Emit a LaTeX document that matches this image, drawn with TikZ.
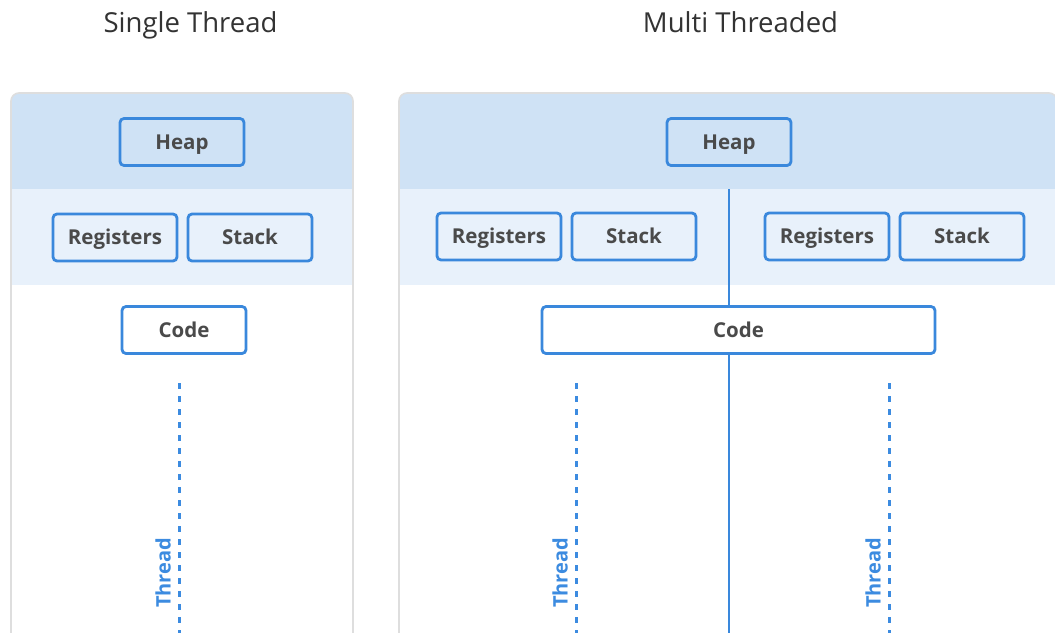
\documentclass[tikz,border=0pt]{standalone}
\usepackage{fontspec}
\setmainfont{Open Sans}
\definecolor{boxblue}{HTML}{3A88DC}
\definecolor{heapband}{HTML}{CFE2F5}
\definecolor{regband}{HTML}{E8F1FB}
\definecolor{panelgray}{HTML}{DEDEDE}
\definecolor{textgray}{HTML}{4A4A4A}
\definecolor{titlegray}{HTML}{333333}
\definecolor{threadblue}{HTML}{3C8BE0}
\begin{document}
\begin{tikzpicture}[x=1pt,y=-1pt,
  membox/.style={draw=boxblue, line width=2.8pt, rounded corners=4pt,
    minimum width=124pt, minimum height=47pt, inner sep=0pt,
    text height=16pt, text depth=1.4pt,
    font=\fontsize{20.5}{24}\selectfont\bfseries, text=textgray},
  title/.style={anchor=base, font=\fontsize{27.5}{32}\selectfont, text=titlegray},
  threadline/.style={draw=threadblue, line width=3pt, dash pattern=on 6pt off 7pt},
  threadlabel/.style={rotate=90, font=\fontsize{20}{24}\selectfont\bfseries, text=threadblue, inner sep=0pt},
  panelborder/.style={draw=panelgray, line width=1.6pt, rounded corners=8pt},
  link/.style={draw=boxblue, line width=2.8pt}
]
\useasboundingbox (0,0) rectangle (1055,632);
\clip (0,0) rectangle (1055,632);
\fill[white] (0,0) rectangle (1055,632);

% titles
\node[title] (t1) at (190.5,32) {Single Thread};
\node[title] (t2) at (740.5,32) {Multi Threaded};

% left panel
\fill[white, rounded corners=8pt] (11,93) rectangle (353,660);
\fill[heapband, rounded corners=8pt] (11,93) rectangle (353,200);
\fill[regband] (11,189) rectangle (353,285);
\draw[panelborder] (11,93) rectangle (353,660);

% right panel
\fill[white, rounded corners=8pt] (399,93) rectangle (1057,660);
\fill[heapband, rounded corners=8pt] (399,93) rectangle (1057,200);
\fill[regband] (399,189) rectangle (1057,285);
\draw[panelborder] (399,93) rectangle (1057,660);

% left nodes
\node[membox] (lheap) at (182,142) {Heap};
\node[membox] (lreg) at (115,237.5) {Registers};
\node[membox] (lstack) at (250,237.5) {Stack};
\node[membox, fill=white] (lcode) at (184,330) {Code};

% right nodes
\node[membox] (rheap) at (729,142) {Heap};
\node[membox] (rreg1) at (499,236.5) {Registers};
\node[membox] (rstack1) at (634,236.5) {Stack};
\node[membox] (rreg2) at (827,236.5) {Registers};
\node[membox] (rstack2) at (962,236.5) {Stack};
\node[membox, fill=white, minimum width=393pt] (rcode) at (738.5,330) {Code};

% shared line
\coordinate (hb) at (729,189);
\coordinate (vb) at (729,640);
\draw[link] (hb) -- (hb |- rcode.north);
\draw[link] (hb |- rcode.south) -- (vb);

% threads
\coordinate (th1a) at (179,383);
\coordinate (th1b) at (179,640);
\coordinate (th2a) at (576,383);
\coordinate (th2b) at (576,640);
\coordinate (th3a) at (889,383);
\coordinate (th3b) at (889,640);
\draw[threadline] (th1a) -- (th1b);
\draw[threadline] (th2a) -- (th2b);
\draw[threadline] (th3a) -- (th3b);
\node[threadlabel] (lab1) at (163,573) {Thread};
\node[threadlabel] (lab2) at (560,573) {Thread};
\node[threadlabel] (lab3) at (873,573) {Thread};
\end{tikzpicture}
\end{document}
